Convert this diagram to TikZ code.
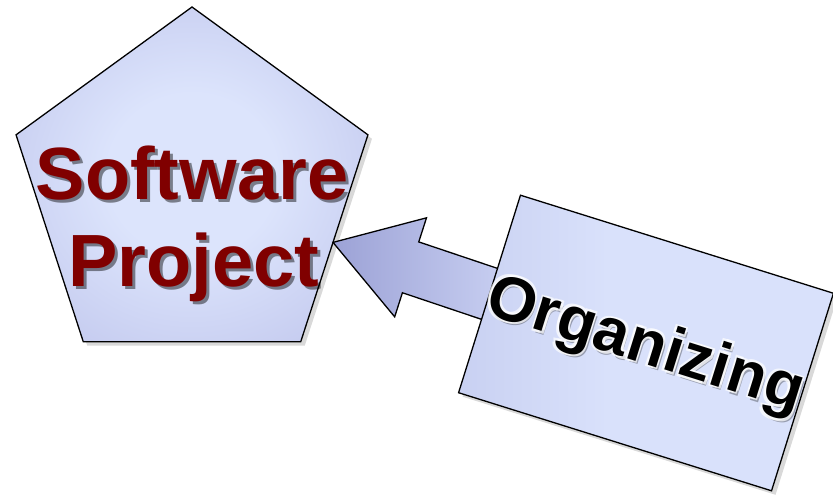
\documentclass[tikz,border=0pt]{standalone}
\usepackage{fontspec}
\setmainfont{Liberation Sans}
\usetikzlibrary{shapes.geometric,shadows,calc}

\definecolor{pentlight}{HTML}{DCE4FC}
\definecolor{pentmid}{HTML}{C3C9EE}
\definecolor{pentdark}{HTML}{A2A8DA}
\definecolor{boxleft}{HTML}{B4BCE6}
\definecolor{boxmid}{HTML}{D9E1FB}
\definecolor{boxright}{HTML}{AEC4B2}
\definecolor{arrowleft}{HTML}{9CA2D6}
\definecolor{arrowright}{HTML}{C9D0F2}
\definecolor{projred}{HTML}{800000}

\pgfdeclareradialshading{pentshade}{\pgfpoint{0bp}{0bp}}{color(0bp)=(pentlight); color(12bp)=(pentlight); color(32bp)=(pentmid); color(50bp)=(pentdark)}
\pgfdeclarehorizontalshading{boxshade}{100bp}{color(0bp)=(boxleft); color(45bp)=(boxmid); color(80bp)=(boxmid); color(100bp)=(boxright)}

\pgfdeclarelayer{front}
\pgfsetlayers{main,front}

\begin{document}
\begin{tikzpicture}[x=1pt,y=1pt]
	\tikzstyle{penta} = [regular polygon,regular polygon sides=5,minimum size=370pt,inner sep=0pt,outer sep=0pt,draw,line width=1.3pt,shading=pentshade,drop shadow={shadow xshift=4pt,shadow yshift=-4pt,opacity=.3}]
	\tikzstyle{orgbox} = [rectangle,minimum width=328pt,minimum height=207pt,inner sep=0pt,outer sep=0pt,draw,line width=1.3pt,shading=boxshade,drop shadow={shadow xshift=4pt,shadow yshift=-4pt,opacity=.3}]
	\tikzstyle{swtext} = [font=\fontsize{74pt}{87pt}\selectfont\bfseries,text=projred,inner sep=0pt,anchor=base]
	\tikzstyle{swshadow} = [swtext,text=black,opacity=.45]
	\tikzstyle{orgtext} = [font=\fontsize{63pt}{70pt}\selectfont\bfseries,inner sep=0pt]
	\tikzstyle{orgglow} = [orgtext,text=white,opacity=.7]
	\tikzstyle{blockarrow} = [draw,line width=1.3pt,line join=miter,left color=arrowleft,right color=arrowright]
	
		\useasboundingbox (0,0) rectangle (833,495);
		
		\node[penta] (penta) at (192,303){};
		\node[swshadow] at ([xshift=3pt,yshift=-11pt]penta.center){Software};
		\node[swtext] (sw) at ([yshift=-8pt]penta.center){Software};
		\node[swshadow] at ([xshift=5pt,yshift=-98pt]penta.center){Project};
		\node[swtext] (proj) at ([xshift=2pt,yshift=-95pt]penta.center){Project};
		
		\begin{pgfonlayer}{front}
		\begin{scope}[shift={(646,152)},rotate=-17.4,transform shape]
			\node[orgbox] (org) at (0,0){};
			\node[orgtext,text=black,opacity=.3] at (3,-7){Organizing};
			\foreach \gx/\gy in {-2/2,2/2,-2/-2,2/-2}
				\node[orgglow] at (\gx,\gy-4){Organizing};
			\node[orgtext] (orgtext) at (0,-4){Organizing};
		\end{scope}
		\end{pgfonlayer}
		
		\coordinate (tip) at ($(penta.corner 5)!0.52!(penta.corner 4)$);
		\coordinate (neck) at ($(tip)!81.5pt!(org.center)$);
		\coordinate (tail) at ($(org.west)!-12pt!(tip)$);
		\draw[blockarrow] (tip) -- ($(neck)!52pt!90:(tip)$) -- ($(neck)!26.7pt!90:(tip)$) -- ($(tail)!26.7pt!90:(tip)$) -- ($(tail)!26.7pt!-90:(tip)$) -- ($(neck)!26.7pt!-90:(tip)$) -- ($(neck)!52pt!-90:(tip)$) -- cycle;
		
\end{tikzpicture}
\end{document}
